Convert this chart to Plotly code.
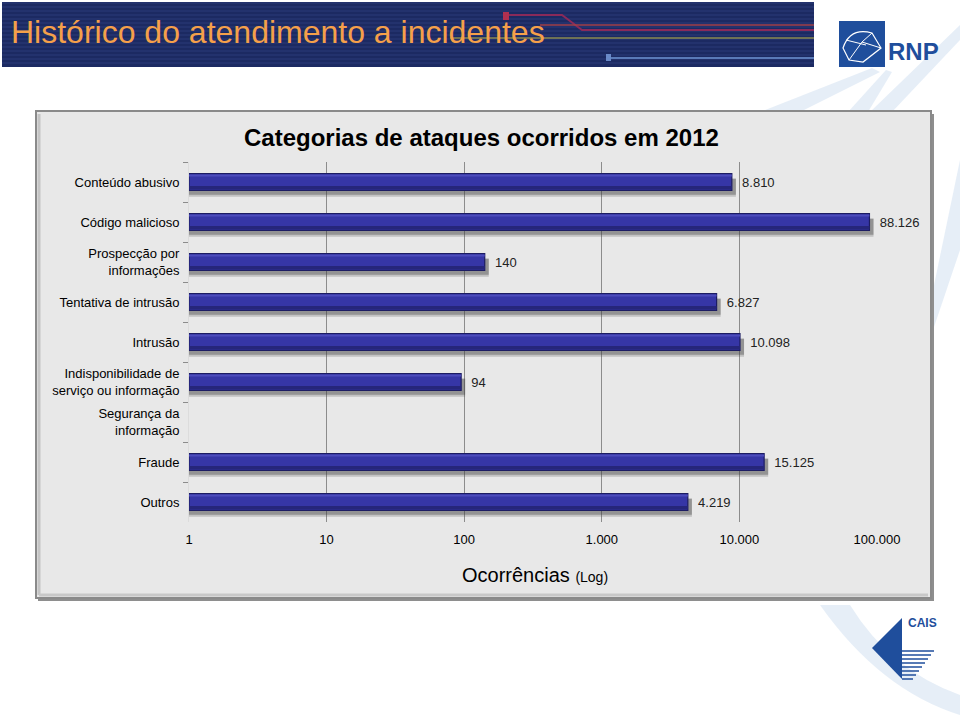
import plotly.graph_objects as go

categories = ["Conteúdo abusivo", "Código malicioso", "Prospecção por<br>informações",
              "Tentativa de intrusão", "Intrusão", "Indisponibilidade de<br>serviço ou informação",
              "Segurança da<br>informação", "Fraude", "Outros"]
values = [8810, 88126, 140, 6827, 10098, 94, None, 15125, 4219]
labels = ["8.810", "88.126", "140", "6.827", "10.098", "94", "", "15.125", "4.219"]
tick_vals = [1, 10, 100, 1000, 10000, 100000]
tick_text = ["1", "10", "100", "1.000", "10.000", "100.000"]

W, H = 960, 720
def px(x): return x / W
def py(y): return 1 - y / H

shadow_x = [v * 1.07 if v else None for v in values]

fig = go.Figure()
# soft shadow (two layers)
fig.add_trace(go.Bar(
    y=categories, x=shadow_x, orientation="h", base=1,
    marker=dict(color="rgba(80,80,80,0.25)", line=dict(width=0)),
    width=0.46, offset=-0.21 + 0.12, hoverinfo="skip",
))
fig.add_trace(go.Bar(
    y=categories, x=shadow_x, orientation="h", base=1,
    marker=dict(color="rgba(60,60,60,0.35)", line=dict(width=0)),
    width=0.40, offset=-0.21 + 0.13, hoverinfo="skip",
))
fig.add_trace(go.Bar(
    y=categories, x=values, orientation="h", base=1,
    marker=dict(color="#3636a6", line=dict(color="#1c1c62", width=1.2)),
    width=0.42, offset=-0.21, text=labels, textposition="outside", cliponaxis=False,
    texttemplate="\u00a0\u00a0%{text}",
    textfont=dict(size=13, color="#222222", family="Liberation Sans, Arial"),
    hoverinfo="skip",
))
# darker lower strip
fig.add_trace(go.Bar(
    y=categories, x=values, orientation="h", base=1,
    marker=dict(color="#26267a", line=dict(width=0)),
    width=0.09, offset=0.21 - 0.11, hoverinfo="skip",
))
# lighter top highlight
fig.add_trace(go.Bar(
    y=categories, x=values, orientation="h", base=1,
    marker=dict(color="#4c4cbc", line=dict(width=0)),
    width=0.05, offset=-0.19, hoverinfo="skip",
))

shapes = []
beam = "rgba(220,231,244,0.7)"
shapes.append(dict(type="path", xref="paper", yref="paper",
                   path=f"M {px(760)} {py(112)} L {px(800)} {py(112)} L {px(880)} {py(72)} L {px(872)} {py(68)} Z",
                   fillcolor=beam, line=dict(width=0), layer="below"))
shapes.append(dict(type="path", xref="paper", yref="paper",
                   path=f"M {px(848)} {py(112)} L {px(868)} {py(112)} L {px(892)} {py(72)} L {px(886)} {py(70)} Z",
                   fillcolor=beam, line=dict(width=0), layer="below"))
shapes.append(dict(type="path", xref="paper", yref="paper",
                   path=f"M {px(870)} {py(112)} L {px(892)} {py(112)} L {px(960)} {py(40)} L {px(960)} {py(25)} Z",
                   fillcolor=beam, line=dict(width=0), layer="below"))
shapes.append(dict(type="path", xref="paper", yref="paper",
                   path=f"M {px(933)} {py(330)} L {px(933)} {py(290)} L {px(960)} {py(160)} L {px(960)} {py(250)} Z",
                   fillcolor=beam, line=dict(width=0), layer="below"))
shapes.append(dict(type="path", xref="paper", yref="paper",
                   path=f"M {px(820)} {py(605)} Q {px(880)} {py(690)} {px(960)} {py(715)} L {px(960)} {py(695)} Q {px(890)} {py(670)} {px(850)} {py(605)} Z",
                   fillcolor=beam, line=dict(width=0), layer="below"))
# header banner
shapes.append(dict(type="rect", xref="paper", yref="paper", x0=px(2), x1=px(814), y0=py(67), y1=py(2),
                   fillcolor="#1c2a62", line=dict(width=0), layer="below"))
for i in range(3, 66, 4):
    shapes.append(dict(type="line", xref="paper", yref="paper", x0=px(2), x1=px(814), y0=py(i), y1=py(i),
                       line=dict(color="#2b3b78", width=1), layer="below"))
shapes.append(dict(type="path", xref="paper", yref="paper",
                   path=f"M {px(505)} {py(15)} L {px(562)} {py(15)} L {px(582)} {py(30)} L {px(814)} {py(30)}",
                   line=dict(color="#8a2a5a", width=2), layer="below"))
shapes.append(dict(type="line", xref="paper", yref="paper", x0=px(540), x1=px(814), y0=py(25), y1=py(25),
                   line=dict(color="#a0404a", width=1.5), layer="below"))
shapes.append(dict(type="line", xref="paper", yref="paper", x0=px(450), x1=px(814), y0=py(38), y1=py(38),
                   line=dict(color="#8a8a50", width=1.5), layer="below"))
shapes.append(dict(type="line", xref="paper", yref="paper", x0=px(608), x1=px(814), y0=py(58), y1=py(58),
                   line=dict(color="#5a7ab8", width=2), layer="below"))
shapes.append(dict(type="rect", xref="paper", yref="paper", x0=px(503), x1=px(509), y0=py(20), y1=py(12),
                   fillcolor="#b03050", line=dict(width=0), layer="below"))
shapes.append(dict(type="rect", xref="paper", yref="paper", x0=px(606), x1=px(611), y0=py(61), y1=py(54),
                   fillcolor="#6a8ac8", line=dict(width=0), layer="below"))
# RNP logo
shapes.append(dict(type="rect", xref="paper", yref="paper", x0=px(839), x1=px(885), y0=py(67), y1=py(21),
                   fillcolor="#1f4e9c", line=dict(width=0), layer="below"))
shapes.append(dict(type="path", xref="paper", yref="paper",
                   path=f"M {px(843)} {py(48)} Q {px(850)} {py(27)} {px(872)} {py(33)} L {px(881)} {py(48)} "
                        f"L {px(863)} {py(62)} L {px(849)} {py(60)} Z",
                   line=dict(color="white", width=1.2), layer="above"))
shapes.append(dict(type="path", xref="paper", yref="paper",
                   path=f"M {px(849)} {py(60)} L {px(862)} {py(42)} L {px(872)} {py(33)} M {px(862)} {py(42)} L {px(881)} {py(48)} "
                        f"M {px(846)} {py(40)} L {px(866)} {py(45)}",
                   line=dict(color="white", width=1), layer="above"))
# chart panel
shapes.append(dict(type="rect", xref="paper", yref="paper", x0=px(38), x1=px(934), y0=py(601), y1=py(114),
                   fillcolor="#8e8e8e", line=dict(width=0), layer="below"))
shapes.append(dict(type="rect", xref="paper", yref="paper", x0=px(36), x1=px(931), y0=py(598), y1=py(111),
                   fillcolor="#e8e8e8", line=dict(color="#8a8a8a", width=2), layer="below"))
shapes.append(dict(type="line", xref="paper", yref="paper", x0=px(39), x1=px(39), y0=py(595), y1=py(114),
                   line=dict(color="#c4c4c4", width=3), layer="below"))
shapes.append(dict(type="line", xref="paper", yref="paper", x0=px(39), x1=px(928), y0=py(595), y1=py(595),
                   line=dict(color="#c8c8c8", width=3), layer="below"))
# CAIS logo
shapes.append(dict(type="path", xref="paper", yref="paper",
                   path=f"M {px(872)} {py(648)} L {px(902)} {py(618)} L {px(902)} {py(679)} Z",
                   fillcolor="#1f4e9c", line=dict(width=0)))
for k, yy in enumerate(range(651, 680, 4)):
    shapes.append(dict(type="line", xref="paper", yref="paper", x0=px(902), x1=px(934 - k * 3), y0=py(yy), y1=py(yy),
                       line=dict(color="#1f4e9c", width=1.5)))

annotations = [
    dict(text="Histórico do atendimento a incidentes", xref="paper", yref="paper", x=px(9), y=py(32),
         xanchor="left", yanchor="middle", showarrow=False,
         font=dict(size=32, color="#f5a04a", family="Liberation Sans, Arial")),
    dict(text="<b>RNP</b>", xref="paper", yref="paper", x=px(886), y=py(52), xanchor="left", yanchor="middle",
         showarrow=False, font=dict(size=24, color="#1f4e9c", family="Liberation Sans Narrow, Liberation Sans, Arial")),
    dict(text="<b>CAIS</b>", xref="paper", yref="paper", x=px(906), y=py(623), xanchor="left", yanchor="middle",
         showarrow=False, font=dict(size=12, color="#1f4e9c", family="Liberation Sans, Arial")),
    dict(text="<b>Categorias de ataques ocorridos em 2012</b>", xref="paper", yref="paper", x=px(481), y=py(137),
         xanchor="center", yanchor="middle", showarrow=False,
         font=dict(size=24, color="#000000", family="Liberation Sans, Arial")),
    dict(text="Ocorrências <span style='font-size:14px'>(Log)</span>", xref="paper", yref="paper", x=px(535), y=py(575),
         xanchor="center", yanchor="middle", showarrow=False,
         font=dict(size=20, color="#000000", family="Liberation Sans, Arial")),
]

fig.update_layout(
    template="none",
    width=W, height=H, margin=dict(l=0, r=0, t=0, b=0, pad=0, autoexpand=False), autosize=False,
    paper_bgcolor="white", plot_bgcolor="#c0c0c0",
    shapes=shapes, annotations=annotations, showlegend=False,
    font=dict(family="Liberation Sans, Arial", color="#000000"),
    barmode="overlay",
    xaxis=dict(type="log", range=[0, 5], domain=[px(189), px(877)], automargin=False,
               tickvals=tick_vals, ticktext=tick_text, tickfont=dict(size=13),
               showgrid=True, gridcolor="#8c8c8c", gridwidth=1, zeroline=False,
               showline=False, ticks="", ticklabelstandoff=8),
    yaxis=dict(domain=[py(522), py(162)], autorange="reversed", type="category", automargin=False,
               tickfont=dict(size=13), showgrid=False, showline=True, linecolor="#dcdcdc",
               ticks="outside", tickson="boundaries", ticklen=5, tickcolor="#8c8c8c",
               ticklabelstandoff=6),
)

fig.write_html("out.html")
